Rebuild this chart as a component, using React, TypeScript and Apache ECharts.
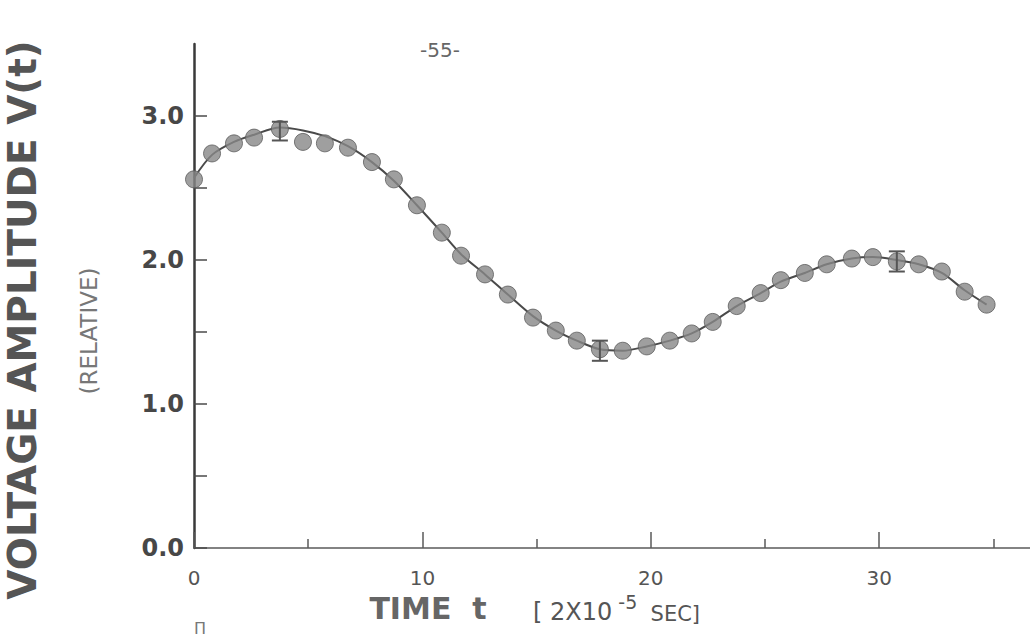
import React, { useEffect, useRef } from 'react';
import * as echarts from 'echarts';

// Time t (units of 2x10^-5 sec) of each measured point
const TIME = [
  0, 0.79, 1.75, 2.63, 3.76, 4.77, 5.73, 6.74, 7.79, 8.75, 9.76, 10.85,
  11.69, 12.74, 13.74, 14.84, 15.84, 16.76, 17.77, 18.77, 19.82, 20.83,
  21.79, 22.71, 23.76, 24.81, 25.69, 26.74, 27.7, 28.8, 29.72, 30.77,
  31.73, 32.74, 33.74, 34.7,
];
// Measured voltage amplitude (relative)
const VOLTAGE = [
  2.56, 2.74, 2.81, 2.85, 2.91, 2.82, 2.81, 2.78, 2.68, 2.56, 2.38, 2.19,
  2.03, 1.9, 1.76, 1.6, 1.51, 1.44, 1.38, 1.37, 1.4, 1.44,
  1.49, 1.57, 1.68, 1.77, 1.86, 1.91, 1.97, 2.01, 2.02, 1.99,
  1.97, 1.92, 1.78, 1.69,
];
// Fitted curve (read at the same times)
const FIT = [
  2.57, 2.73, 2.82, 2.87, 2.92, 2.9, 2.86, 2.79, 2.68, 2.55, 2.38, 2.19,
  2.04, 1.9, 1.76, 1.61, 1.51, 1.44, 1.38, 1.37, 1.4, 1.44,
  1.49, 1.57, 1.68, 1.77, 1.85, 1.91, 1.97, 2.01, 2.02, 2.0,
  1.97, 1.91, 1.79, 1.69,
];
// Error bars
const ERR_T = [3.76, 17.77, 30.77];
const ERR_LOW = [2.83, 1.3, 1.92];
const ERR_HIGH = [2.96, 1.44, 2.06];

const X_LABELS = [0, 10, 20, 30];
const X_MINOR = [5, 15, 25, 35];
const Y_LABELS = [0, 1, 2, 3];
const Y_TICKS = [0, 0.5, 1, 1.5, 2, 2.5, 3];

export default function App() {
  const ref = useRef<HTMLDivElement>(null);
  useEffect(() => {
    document.body.style.margin = '0';
    const chart = echarts.init(ref.current!, null, { renderer: 'svg' });
    const points = TIME.map((t, i) => [t, VOLTAGE[i]]);
    const fit = TIME.map((t, i) => [t, FIT[i]]);
    const errs = ERR_T.map((t, i) => [t, ERR_LOW[i], ERR_HIGH[i]]);
    chart.setOption({
      animation: false,
      backgroundColor: '#ffffff',
      grid: { left: 194, top: 44, right: 0, bottom: 91, containLabel: false },
      xAxis: [
        {
          type: 'value',
          min: 0,
          max: 36.6,
          interval: 10,
          axisLine: { show: true, lineStyle: { color: '#5a5a5a', width: 1.5 } },
          axisTick: {
            show: true,
            inside: true,
            length: 16,
            customValues: X_LABELS,
            lineStyle: { color: '#5a5a5a', width: 1.5 },
          },
          axisLabel: {
            customValues: X_LABELS,
            margin: 20,
            fontSize: 20,
            color: '#555',
            fontFamily: 'DejaVu Sans',
            formatter: (v: number) => (v % 10 === 0 ? String(v) : ''),
          },
          splitLine: { show: false },
        },
        {
          type: 'value',
          min: 0,
          max: 36.6,
          interval: 5,
          position: 'bottom',
          axisLine: { show: false },
          axisTick: {
            show: true,
            inside: true,
            length: 9,
            customValues: X_MINOR,
            lineStyle: { color: '#5a5a5a', width: 1.5 },
          },
          axisLabel: { show: false },
          splitLine: { show: false },
        },
      ],
      yAxis: {
        type: 'value',
        min: 0,
        max: 3.5,
        interval: 0.5,
        axisLine: { show: true, lineStyle: { color: '#3a3a3a', width: 2.5 } },
        axisTick: {
          show: true,
          inside: true,
          length: 13,
          customValues: Y_TICKS,
          lineStyle: { color: '#4a4a4a', width: 1.5 },
        },
        axisLabel: {
          customValues: Y_LABELS,
          margin: 10,
          fontSize: 24,
          fontWeight: 'bold',
          color: '#474747',
          fontFamily: 'DejaVu Sans',
          formatter: (v: number) => (Number.isInteger(v) ? v.toFixed(1) : ''),
        },
        splitLine: { show: false },
      },
      series: [
        {
          type: 'line',
          data: fit,
          smooth: 0.3,
          symbol: 'none',
          lineStyle: { color: '#4a4a4a', width: 2 },
          z: 2,
        },
        {
          type: 'scatter',
          data: points,
          symbol: 'circle',
          symbolSize: 17,
          itemStyle: { color: '#878787', borderColor: '#5c5c5c', borderWidth: 1 },
          z: 3,
        },
        {
          type: 'custom',
          data: errs,
          z: 4,
          renderItem: (params: any, api: any) => {
            const t = api.value(0);
            const lo = api.coord([t, api.value(1)]);
            const hi = api.coord([t, api.value(2)]);
            const w = 8;
            const style = { stroke: '#555', lineWidth: 2 };
            return {
              type: 'group',
              children: [
                { type: 'line', shape: { x1: lo[0], y1: lo[1], x2: hi[0], y2: hi[1] }, style },
                { type: 'line', shape: { x1: lo[0] - w, y1: lo[1], x2: lo[0] + w, y2: lo[1] }, style },
                { type: 'line', shape: { x1: hi[0] - w, y1: hi[1], x2: hi[0] + w, y2: hi[1] }, style },
              ],
            };
          },
        },
      ],
      graphic: [
        {
          type: 'text',
          x: 440,
          y: 50,
          style: {
            text: '-55-',
            fontSize: 20,
            fill: '#666',
            fontFamily: 'DejaVu Sans',
            align: 'center',
            verticalAlign: 'middle',
          },
        },
        {
          type: 'text',
          x: 22,
          y: 320,
          rotation: Math.PI / 2,
          style: {
            text: 'VOLTAGE AMPLITUDE V(t)',
            fontSize: 39,
            fontWeight: 'bold',
            fill: '#555',
            fontFamily: 'DejaVu Sans',
            align: 'center',
            verticalAlign: 'middle',
          },
        },
        {
          type: 'text',
          x: 89,
          y: 331,
          rotation: Math.PI / 2,
          style: {
            text: '(RELATIVE)',
            fontSize: 23,
            fill: '#777',
            fontFamily: 'DejaVu Sans',
            align: 'center',
            verticalAlign: 'middle',
          },
        },
        {
          type: 'text',
          x: 428,
          y: 608,
          style: {
            text: 'TIME  t',
            fontSize: 30,
            fontWeight: 'bold',
            fill: '#666',
            fontFamily: 'DejaVu Sans',
            align: 'center',
            verticalAlign: 'middle',
          },
        },
        {
          type: 'text',
          x: 533,
          y: 608,
          style: {
            text: '{b|[ 2X10}{s| -5}{c|  SEC]}',
            fill: '#555',
            fontFamily: 'DejaVu Sans',
            align: 'left',
            verticalAlign: 'middle',
            rich: {
              b: { fontSize: 24, fill: '#555', lineHeight: 32, verticalAlign: 'bottom', fontFamily: 'DejaVu Sans' },
              s: { fontSize: 19, fill: '#555', lineHeight: 32, verticalAlign: 'top', fontFamily: 'DejaVu Sans' },
              c: { fontSize: 21, fill: '#555', lineHeight: 32, verticalAlign: 'bottom', fontFamily: 'DejaVu Sans' },
            },
          },
        },
        {
          type: 'text',
          x: 200,
          y: 628,
          style: {
            text: 'П',
            fontSize: 16,
            fill: '#777',
            fontFamily: 'DejaVu Sans',
            align: 'center',
            verticalAlign: 'middle',
          },
        },
      ],
    });
    return () => chart.dispose();
  }, []);
  return <div ref={ref} style={{ width: 1030, height: 639 }} />;
}
